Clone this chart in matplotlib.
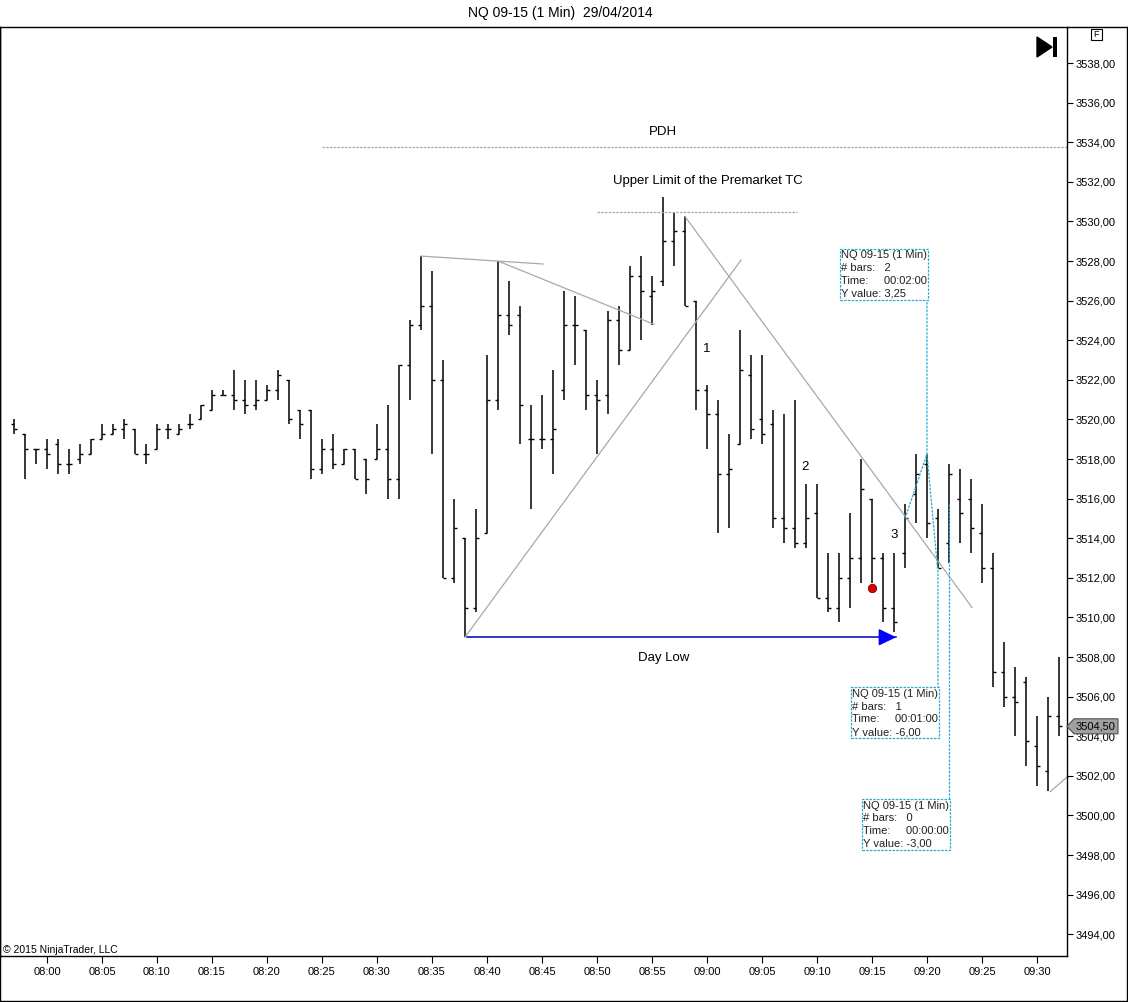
import numpy as np
import matplotlib
matplotlib.use("Agg")
import matplotlib.pyplot as plt
from matplotlib.lines import Line2D
from matplotlib.patches import Polygon, Rectangle

plt.rcParams['font.family'] = ['Liberation Sans', 'DejaVu Sans']

# 1 minute bars, 07:57 .. 09:32 (minutes from 08:00)
first_minute = -3
opens = [3519.75, 3519.25, 3518.5, 3518.5, 3518.75, 3517.75, 3518.0, 3518.25, 3519.0, 3519.25,
         3519.5, 3519.5, 3518.25, 3518.5, 3519.5, 3519.25, 3519.75, 3520.0, 3520.5, 3521.25,
         3521.25, 3521.0, 3520.75, 3521.0, 3521.5, 3522.0, 3520.5, 3520.5, 3517.5, 3518.5,
         3517.75, 3518.5, 3518.0, 3518.0, 3518.5, 3517.0, 3522.75, 3524.75, 3525.75, 3522.0,
         3512.0, 3514.0, 3510.5, 3514.25, 3521.0, 3525.25, 3525.25, 3519.0, 3519.0, 3519.0,
         3521.5, 3524.75, 3524.5, 3521.25, 3521.25, 3525.0, 3523.5, 3527.25, 3526.25, 3527.0,
         3529.0, 3529.5, 3526.0, 3521.5, 3520.25, 3517.25, 3518.75, 3522.25, 3520.0, 3519.75,
         3515.0, 3514.5, 3513.75, 3515.25, 3511.0, 3510.5, 3512.0, 3513.0, 3516.0, 3513.0,
         3510.5, 3513.25, 3516.25, 3517.75, 3515.0, 3513.75, 3516.0, 3516.0, 3514.25, 3512.5,
         3507.25, 3506.0, 3506.75, 3503.5, 3502.25, 3505.0]
highs = [3520.0, 3519.25, 3518.5, 3519.0, 3519.0, 3518.5, 3518.75, 3519.0, 3519.75, 3519.75,
         3520.0, 3519.5, 3518.75, 3519.75, 3519.75, 3519.75, 3520.25, 3520.75, 3521.5, 3521.5,
         3522.5, 3522.0, 3522.0, 3521.75, 3522.5, 3522.0, 3520.5, 3520.5, 3519.0, 3519.25,
         3518.5, 3518.5, 3518.0, 3519.75, 3520.75, 3522.75, 3525.0, 3528.25, 3527.5, 3523.0,
         3516.0, 3514.0, 3515.5, 3523.25, 3528.0, 3527.0, 3525.75, 3520.75, 3521.25, 3522.5,
         3526.5, 3526.25, 3524.5, 3522.0, 3525.5, 3525.75, 3527.75, 3528.25, 3527.25, 3531.25,
         3530.5, 3530.25, 3526.0, 3521.75, 3521.0, 3519.25, 3524.5, 3523.25, 3523.25, 3520.5,
         3520.25, 3521.0, 3516.75, 3516.75, 3513.25, 3513.25, 3515.25, 3518.0, 3516.0, 3513.25,
         3513.25, 3515.75, 3518.25, 3518.25, 3515.5, 3517.75, 3517.5, 3517.0, 3515.75, 3513.25,
         3508.75, 3507.5, 3507.0, 3505.0, 3506.0, 3508.0]
lows = [3519.25, 3517.0, 3517.75, 3517.5, 3517.25, 3517.25, 3517.75, 3518.25, 3519.0, 3519.25,
        3519.0, 3518.25, 3517.75, 3518.5, 3519.0, 3519.25, 3519.5, 3520.0, 3520.5, 3521.25,
        3520.5, 3520.25, 3520.5, 3521.0, 3521.0, 3519.75, 3519.0, 3517.0, 3517.25, 3517.5,
        3517.75, 3517.0, 3516.25, 3518.0, 3516.0, 3516.0, 3521.0, 3524.5, 3518.25, 3512.0,
        3511.75, 3509.0, 3510.25, 3514.25, 3520.5, 3524.25, 3518.75, 3515.5, 3518.5, 3517.25,
        3521.0, 3522.75, 3520.5, 3518.25, 3520.25, 3522.75, 3523.5, 3524.0, 3524.75, 3526.75,
        3527.75, 3525.75, 3520.5, 3518.5, 3514.25, 3514.5, 3518.75, 3519.0, 3518.75, 3514.5,
        3513.75, 3513.5, 3513.5, 3511.0, 3510.25, 3509.75, 3510.5, 3511.75, 3511.75, 3509.75,
        3509.25, 3512.5, 3514.75, 3514.0, 3512.5, 3512.75, 3513.75, 3513.25, 3511.75, 3506.5,
        3505.5, 3504.0, 3502.5, 3501.5, 3501.25, 3504.0]
closes = [3519.5, 3518.5, 3518.5, 3518.25, 3517.75, 3517.75, 3518.25, 3519.0, 3519.25, 3519.5,
          3519.75, 3518.25, 3518.25, 3519.5, 3519.5, 3519.5, 3519.75, 3520.75, 3521.25, 3521.25,
          3521.0, 3520.75, 3521.0, 3521.5, 3522.25, 3520.0, 3519.75, 3517.5, 3518.5, 3517.75,
          3518.5, 3517.0, 3517.0, 3518.5, 3517.0, 3522.75, 3524.75, 3525.75, 3522.0, 3512.0,
          3514.5, 3510.5, 3514.0, 3521.0, 3525.25, 3524.75, 3520.75, 3519.0, 3519.0, 3519.5,
          3524.75, 3524.75, 3521.25, 3521.0, 3525.0, 3523.5, 3527.25, 3526.5, 3526.5, 3529.0,
          3529.5, 3525.75, 3521.5, 3520.25, 3517.25, 3517.5, 3522.5, 3519.5, 3519.25, 3515.0,
          3514.5, 3513.75, 3515.0, 3511.0, 3510.5, 3512.0, 3513.0, 3516.5, 3513.0, 3510.5,
          3509.75, 3515.0, 3517.25, 3514.75, 3512.5, 3517.25, 3515.25, 3514.5, 3512.5, 3507.25,
          3506.0, 3505.75, 3503.75, 3502.5, 3505.0, 3504.5]

tick_minutes = list(range(0, 91, 5))
tick_labels = ["08:00", "08:05", "08:10", "08:15", "08:20", "08:25", "08:30", "08:35", "08:40", "08:45",
               "08:50", "08:55", "09:00", "09:05", "09:10", "09:15", "09:20", "09:25", "09:30"]
price_ticks = list(range(3494, 3539, 2))

# drawings on the chart: (minute, price)
pdh = 3533.75
pdh_from = 25
premarket_limit = 3530.5
premarket_span = (50, 68.2)
grey_lines = [
    [(34, 3528.25), (45.1, 3527.85)],
    [(41, 3528.0), (55.2, 3524.8)],
    [(38, 3509.0), (63.1, 3528.05)],
    [(58, 3530.25), (84.1, 3510.5)],
    [(91.2, 3501.2), (93.5, 3502.3)],
]
day_low = 3509.0
day_low_span = (38.2, 77.2)
wave_labels = [("1", 60.0, 3523.55), ("2", 68.9, 3517.6), ("3", 77.0, 3514.15)]
red_dot = (75, 3511.5)
rulers = [
    dict(pts=[(78, 3515.0), (80, 3518.25), (80, 3526.1)],
         text="NQ 09-15 (1 Min)\n# bars:   2\nTime:     00:02:00\nY value: 3,25",
         anchor=(80, 3526.1), va="bottom"),
    dict(pts=[(80, 3518.25), (81, 3512.25), (81, 3506.4)],
         text="NQ 09-15 (1 Min)\n# bars:   1\nTime:     00:01:00\nY value: -6,00",
         anchor=(81, 3506.4), va="top"),
    dict(pts=[(82, 3515.75), (82, 3512.75), (82, 3500.75)],
         text="NQ 09-15 (1 Min)\n# bars:   0\nTime:     00:00:00\nY value: -3,00",
         anchor=(82, 3500.75), va="top"),
]
last_price = 3504.5

W, H = 1128, 1002
fig = plt.figure(figsize=(W / 100, H / 100), dpi=100)
fig.patch.set_facecolor("white")
ax = fig.add_axes([0, (H - 956) / H, 1067 / W, (956 - 27) / H])
ax.set_xlim(-4.27, 92.73)
ax.set_ylim(3492.9, 3539.82)

x = np.arange(len(opens)) + first_minute
ax.vlines(x, lows, highs, color="black", lw=1.1)
ax.hlines(opens, x - 0.3, x, color="black", lw=1.0)
ax.hlines(closes, x, x + 0.3, color="black", lw=1.0)

# drawings
grey = "#a8a8a8"
ax.plot([pdh_from, 92.73], [pdh, pdh], color=grey, lw=0.9, ls=(0, (2, 1)))
ax.text(56, pdh + 0.75, "PDH", ha="center", va="center", fontsize=9.5)
ax.plot(premarket_span, [premarket_limit] * 2, color=grey, lw=0.9, ls=(0, (2, 1)))
ax.text(60.1, premarket_limit + 1.55, "Upper Limit of the Premarket TC", ha="center", va="center", fontsize=9.5)
for seg in grey_lines:
    xs, ys = zip(*seg)
    ax.plot(xs, ys, color=grey, lw=0.9)

ax.plot(day_low_span, [day_low] * 2, color="#0000b0", lw=1.1)
ax.annotate("", xy=(day_low_span[1], day_low), xytext=(day_low_span[1] - 1.5, day_low),
            arrowprops=dict(arrowstyle="-|>,head_length=0.54,head_width=0.26", color="#0000ff",
                            lw=1.1, mutation_scale=20, shrinkA=0, shrinkB=0))
ax.text(56.1, day_low - 1.05, "Day Low", ha="center", va="center", fontsize=9.5)

for lab, lx, ly in wave_labels:
    ax.text(lx, ly, lab, ha="center", va="center", fontsize=9.5)

ax.plot(*red_dot, "o", color="#e00000", mec="#700000", mew=0.6, ms=6)

cyan = "#2aaad4"
for r in rulers:
    xs, ys = zip(*r["pts"])
    ax.plot(xs, ys, color=cyan, lw=0.9, ls=(0, (2, 1)))
    ax.text(r["anchor"][0], r["anchor"][1], r["text"], ha="right", va=r["va"],
            multialignment="left", fontsize=8, color="#202020", linespacing=1.35,
            bbox=dict(boxstyle="square,pad=0.12", fc="white", ec=cyan, ls=(0, (2, 1)), lw=0.9))

# axes styling
ax.yaxis.tick_right()
ax.set_yticks(price_ticks)
ax.set_yticklabels([f"{p:.2f}".replace(".", ",") for p in price_ticks])
ax.set_xticks(tick_minutes)
ax.set_xticklabels(tick_labels)
ax.tick_params(axis="y", direction="out", length=4, width=0.8, labelsize=8, pad=2, colors="black")
ax.tick_params(axis="x", direction="out", length=5, width=0.8, labelsize=8, pad=3, colors="black")
for s in ax.spines.values():
    s.set_linewidth(1.0)
    s.set_color("black")

# last price marker
yl = last_price
hh = 0.38
tr = ax.get_yaxis_transform()
mx0, mx1 = 1.0, 1118 / 1067
tip = 1074 / 1067
ax.add_patch(Polygon([(mx0, yl), (tip, yl + hh), (mx1, yl + hh), (mx1, yl - hh), (tip, yl - hh)],
                     closed=True, transform=tr, fc="#a0a0a0", ec="#505050", lw=0.8, clip_on=False, zorder=5))
ax.text((tip + mx1) / 2, yl, "3504,50", transform=tr, ha="center", va="center", fontsize=8, zorder=6)

# title and frame
fig.text(560 / W, 1 - 13 / H, "NQ 09-15 (1 Min)  29/04/2014", ha="center", va="center", fontsize=10)
fig.text(3 / W, 1 - 950 / H, "\u00a9 2015 NinjaTrader, LLC", ha="left", va="center", fontsize=7.5)


def fl(xs, ys, **kw):
    fig.add_artist(Line2D([v / W for v in xs], [1 - v / H for v in ys], transform=fig.transFigure,
                          color="black", lw=1.0, **kw))


fl([0, 1127], [1001, 1001])
fl([1127, 1127], [27, 1001])
fl([0, 0], [27, 1001])
fl([1067, 1128], [27, 27])

# go-to-end button and F box
fig.add_artist(Polygon([(1037 / W, 1 - 37 / H), (1037 / W, 1 - 57 / H), (1052 / W, 1 - 47 / H)],
                       closed=True, transform=fig.transFigure, fc="black", ec="black"))
fig.add_artist(Rectangle((1053 / W, 1 - 57 / H), 4 / W, 20 / H, transform=fig.transFigure,
                         fc="black", ec="none"))
fig.add_artist(Rectangle((1091 / W, 1 - 40 / H), 11 / W, 11 / H, transform=fig.transFigure,
                         fc="white", ec="black", lw=0.8))
fig.text(1096.5 / W, 1 - 34.5 / H, "F", ha="center", va="center", fontsize=6.5)

fig.savefig("out.png", dpi=100)
